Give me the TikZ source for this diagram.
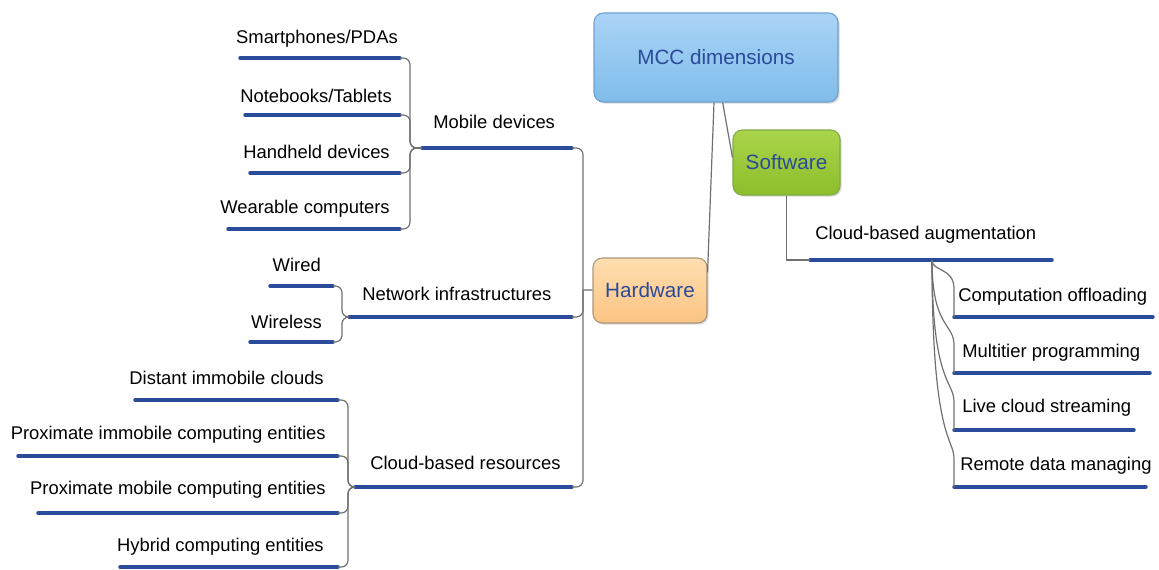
\documentclass[tikz,border=0pt]{standalone}
\usepackage{fontspec}
\setmainfont{Liberation Sans}
\usepackage{tikz}
\usetikzlibrary{calc, shadows}
\usepackage{xcolor}

\definecolor{ulblue}{RGB}{43,76,155}
\definecolor{conngray}{RGB}{112,112,112}
\definecolor{boxtext}{RGB}{42,74,154}
\definecolor{mcctop}{RGB}{170,212,246}
\definecolor{mccbot}{RGB}{128,188,234}
\definecolor{mccline}{RGB}{111,160,210}
\definecolor{swtop}{RGB}{170,212,74}
\definecolor{swbot}{RGB}{141,190,44}
\definecolor{swline}{RGB}{128,170,70}
\definecolor{hwtop}{RGB}{255,222,176}
\definecolor{hwbot}{RGB}{251,196,131}
\definecolor{hwline}{RGB}{170,150,125}

\tikzset{
    uline/.style={draw=ulblue, line width=2.6pt, line cap=round},
    conn/.style={draw=conngray, line width=0.9pt},
    leaf/.style={font=\fontsize{13.8}{16}\selectfont, inner sep=0pt},
    topbox/.style={rounded corners=7pt, line width=0.8pt, text=boxtext,
        font=\fontsize{15.5}{18}\selectfont,
        drop shadow={shadow xshift=1.2pt, shadow yshift=-1.2pt, opacity=0.3}}
}

\begin{document}
\begin{tikzpicture}[x=0.75pt, y=-0.75pt]
    \useasboundingbox (0,0) rectangle (1159,569);

    % Top boxes
    \node[topbox, draw=mccline, top color=mcctop, bottom color=mccbot,
          minimum width=183pt, minimum height=66.75pt] (mcc) at (716,57.5) {MCC dimensions};
    \node[topbox, draw=swline, top color=swtop, bottom color=swbot,
          minimum width=80.25pt, minimum height=48.75pt] (sw) at (786.5,162.5) {Software};
    \node[topbox, draw=hwline, top color=hwtop, bottom color=hwbot,
          minimum width=85.5pt, minimum height=48.75pt] (hw) at (650,290.5) {Hardware};

    % Underlines of all topics
    \foreach \n/\a/\b/\y in {smart/240/400/58, note/245/400/115, hand/250/400/173,
        wear/228/400/229, mob/422/572/148, wired/270/333/286, wless/250/333/342,
        net/349/572/317, dist/135/338/400, pimm/18/338/456, pmob/38/338/513,
        hyb/120/338/567, res/355/572/487, aug/810/1052/260, comp/954/1153/317,
        multi/954/1150/373, live/954/1134/430, rem/954/1146/487} {
        \coordinate (\n-l) at (\a,\y);
        \coordinate (\n-r) at (\b,\y);
        \draw[uline] (\n-l) -- (\n-r);
    }

    % Texts of the topics
    \node[leaf, anchor=east] (smart) at (398,39) {Smartphones/PDAs};
    \node[leaf, anchor=east] (note) at (392,96) {Notebooks/Tablets};
    \node[leaf, anchor=east] (hand) at (390,152) {Handheld devices};
    \node[leaf, anchor=east] (wear) at (390,209) {Wearable computers};
    \node[leaf, anchor=west] (mob) at (433,122) {Mobile devices};
    \node[leaf, anchor=east] (wired) at (321,265) {Wired};
    \node[leaf, anchor=east] (wless) at (322,322) {Wireless};
    \node[leaf, anchor=west] (net) at (362,294) {Network infrastructures};
    \node[leaf, anchor=east] (dist) at (324,378) {Distant immobile clouds};
    \node[leaf, anchor=east] (pimm) at (326,435) {Proximate immobile computing entities};
    \node[leaf, anchor=east] (pmob) at (326,490) {Proximate mobile computing entities};
    \node[leaf, anchor=east] (hyb) at (324,547) {Hybrid computing entities};
    \node[leaf, anchor=west] (res) at (370,463) {Cloud-based resources};
    \node[leaf, anchor=west] (aug) at (815,235) {Cloud-based augmentation};
    \node[leaf, anchor=west] (comp) at (958,297) {Computation offloading};
    \node[leaf, anchor=west] (multi) at (962,353) {Multitier programming};
    \node[leaf, anchor=west] (live) at (962,408) {Live cloud streaming};
    \node[leaf, anchor=west] (rem) at (960,466) {Remote data managing};

    % Branch points
    \coordinate (mob-b) at (410,148);
    \coordinate (net-b) at (342,317);
    \coordinate (res-b) at (348,487);
    \coordinate (hw-bus) at (583,290);
    \coordinate (aug-b) at (932,260);

    % Brackets on the left
    \foreach \c in {smart, note, hand, wear}
        \draw[conn, rounded corners=5pt] (\c-r) -| (mob-b) -- (mob-l);
    \foreach \c in {wired, wless}
        \draw[conn, rounded corners=5pt] (\c-r) -| (net-b) -- (net-l);
    \foreach \c in {dist, pimm, pmob, hyb}
        \draw[conn, rounded corners=5pt] (\c-r) -| (res-b) -- (res-l);

    % Hardware trunk
    \draw[conn, rounded corners=5pt] (mob-r) -| (hw-bus) |- (res-r);
    \draw[conn, rounded corners=5pt] (net-r) -| (hw-bus);
    \draw[conn] (hw) -- (hw-bus);

    % Links from the main box
    \draw[conn] ([xshift=-1.5pt]mcc.south) -- ($(hw.north east)+(0,15)$);
    \draw[conn] ([xshift=5pt]mcc.south) -- ($(sw.west)+(0,-5)$);
    \draw[conn] (sw.south) |- (aug-l);

    % Software children
    \foreach \c in {comp, multi, live, rem}
        \draw[conn] (aug-b) .. controls ($(\c-l)+(-22,-45)$) and ($(\c-l)+(0,-50)$) .. ($(\c-l)+(0,-28)$) -- (\c-l);

\end{tikzpicture}
\end{document}
